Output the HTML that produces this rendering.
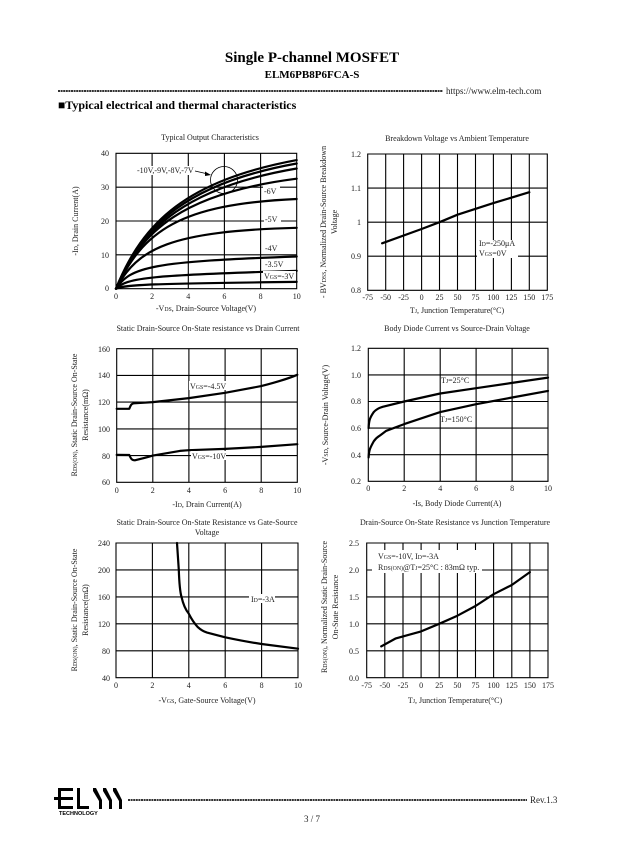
<!DOCTYPE html>
<html><head><meta charset="utf-8"><style>
html,body{margin:0;padding:0;background:#fff}
svg{display:block}
text{font-family:"Liberation Serif",serif;fill:#222}
.t{font-size:8px}
.s{font-size:5.8px}
.g{stroke:#000;stroke-width:1.1;fill:none}
.c{stroke:#000;stroke-width:2.2;fill:none;stroke-linejoin:round;stroke-linecap:round}
.bg{fill:#fff}
</style></head><body>
<svg width="624" height="865" viewBox="0 0 624 865" xmlns="http://www.w3.org/2000/svg">
<rect width="624" height="865" fill="#fff"/>
<!-- header -->
<text x="312" y="62" text-anchor="middle" style="font-size:15px;font-weight:bold;fill:#000">Single P-channel MOSFET</text>
<text x="312" y="78" text-anchor="middle" style="font-size:11px;font-weight:bold;fill:#000">ELM6PB8P6FCA-S</text>
<line x1="58" y1="91" x2="443" y2="91" stroke="#333" stroke-width="2" stroke-dasharray="2,0.6"/>
<text x="446" y="94" style="font-size:9px">https://www.elm-tech.com</text>
<text x="58" y="109" style="font-size:12px;font-weight:bold;fill:#000">■Typical electrical and thermal characteristics</text>

<!-- Chart 1 -->
<text x="210" y="140" text-anchor="middle" class="t">Typical Output Characteristics</text>
<path class="g" d="M116,153.3H296.7V288.7H116Z M152.1,153.3V288.7 M188.3,153.3V288.7 M224.4,153.3V288.7 M260.6,153.3V288.7 M116,187.2H296.7 M116,221H296.7 M116,254.8H296.7"/>
<path class="c" d="M116,288.7 C143,221 188,180.4 296.7,160.1"/>
<path class="c" d="M116,288.7 C143,224 188,183 296.7,163.5"/>
<path class="c" d="M116,288.7 C143,226 188,187 296.7,168.5"/>
<path class="c" d="M116,288.7 C141,230 184,193 296.7,178.7"/>
<path class="c" d="M116,288.7 C143.1,231.2 179.2,204.1 296.7,199"/>
<path class="c" d="M116,288.7 C137.7,248.1 170.2,231.2 296.7,227.8"/>
<path class="c" d="M116,288.7 C130.5,266.7 152.1,261.6 296.7,256.5"/>
<path class="c" d="M116,288.7 C126.8,277.5 152.1,275.2 296.7,270.8"/>
<path class="c" d="M116,288.7 C125,284.6 152.1,283.6 296.7,281.9"/>
<circle cx="224" cy="180" r="13.5" fill="none" stroke="#000" stroke-width="0.8"/>
<rect class="bg" x="136" y="166" width="58" height="9"/>
<text x="137" y="173" class="t">-10V,-9V,-8V,-7V</text>
<line x1="195" y1="171" x2="208" y2="174" stroke="#000" stroke-width="0.8"/>
<path d="M211,175 L205,171.5 L205,176 Z" fill="#000"/>
<rect class="bg" x="263" y="186" width="17" height="9"/><text x="264" y="194" class="t">-6V</text>
<rect class="bg" x="264" y="214" width="17" height="9"/><text x="265" y="222" class="t">-5V</text>
<rect class="bg" x="264" y="243" width="17" height="9"/><text x="265" y="251" class="t">-4V</text>
<rect class="bg" x="264" y="259" width="21" height="9"/><text x="265" y="267" class="t">-3.5V</text>
<rect class="bg" x="263" y="271" width="33" height="9"/><text x="264" y="279" class="t">V<tspan class="s">GS</tspan>=-3V</text>
<g class="t" text-anchor="end"><text x="109" y="156">40</text><text x="109" y="190">30</text><text x="109" y="224">20</text><text x="109" y="258">10</text><text x="109" y="291">0</text></g>
<g class="t" text-anchor="middle"><text x="116" y="299">0</text><text x="152.1" y="299">2</text><text x="188.3" y="299">4</text><text x="224.4" y="299">6</text><text x="260.6" y="299">8</text><text x="296.7" y="299">10</text></g>
<text x="206" y="311" text-anchor="middle" class="t">-V<tspan class="s">DS</tspan>, Drain-Source Voltage(V)</text>
<text transform="translate(78,221) rotate(-90)" text-anchor="middle" class="t">-I<tspan class="s">D</tspan>, Drain Current(A)</text>

<!-- Chart 2 -->
<text x="457" y="141" text-anchor="middle" class="t">Breakdown Voltage vs Ambient Temperature</text>
<path class="g" d="M367.7,154H547.3V290.3H367.7Z M385.7,154V290.3 M403.6,154V290.3 M421.6,154V290.3 M439.5,154V290.3 M457.5,154V290.3 M475.5,154V290.3 M493.4,154V290.3 M511.4,154V290.3 M529.3,154V290.3 M367.7,188.1H547.3 M367.7,222.2H547.3 M367.7,256.2H547.3"/>
<polyline class="c" points="382.1,243.3 421.6,229 439.5,222.2 457.5,214.7 493.4,203.1 529.3,192.2"/>
<rect class="bg" x="477" y="240" width="41" height="18"/>
<text x="479" y="246" class="t">I<tspan class="s">D</tspan>=-250μA</text>
<text x="479" y="256" class="t">V<tspan class="s">GS</tspan>=0V</text>
<g class="t" text-anchor="end"><text x="361" y="157">1.2</text><text x="361" y="191">1.1</text><text x="361" y="225">1</text><text x="361" y="259">0.9</text><text x="361" y="293">0.8</text></g>
<g class="t" text-anchor="middle"><text x="367.7" y="300">-75</text><text x="385.7" y="300">-50</text><text x="403.6" y="300">-25</text><text x="421.6" y="300">0</text><text x="439.5" y="300">25</text><text x="457.5" y="300">50</text><text x="475.5" y="300">75</text><text x="493.4" y="300">100</text><text x="511.4" y="300">125</text><text x="529.3" y="300">150</text><text x="547.3" y="300">175</text></g>
<text x="457" y="313" text-anchor="middle" class="t">T<tspan class="s">J</tspan>, Junction Temperature(°C)</text>
<text transform="translate(326,222) rotate(-90)" text-anchor="middle" class="t">- BV<tspan class="s">DSS</tspan>, Normalized Drain-Source Breakdown</text>
<text transform="translate(337,222) rotate(-90)" text-anchor="middle" class="t">Voltage</text>

<!-- Chart 3 -->
<text x="208" y="331" text-anchor="middle" class="t">Static Drain-Source On-State resistance vs Drain Current</text>
<path class="g" d="M116.7,348.7H297.3V482.3H116.7Z M152.8,348.7V482.3 M188.9,348.7V482.3 M225.1,348.7V482.3 M261.2,348.7V482.3 M116.7,375.4H297.3 M116.7,402.1H297.3 M116.7,428.9H297.3 M116.7,455.6H297.3"/>
<path class="c" d="M116.7,408.8 L129.3,408.8 C131,404 132,403.5 134,403.3 L152.8,402.1 L188.9,398.1 L225.1,392.8 L261.2,386.1 Q285,380 297.3,374.8"/>
<path class="c" d="M116.7,454.9 L129.3,455 C131,459 132,460.3 134.8,460.3 Q145,458 152.8,455.6 L179.9,450.9 L188.9,450.2 L225.1,448.9 L261.2,446.9 L297.3,444.2"/>
<rect class="bg" x="189" y="381" width="38" height="9"/><text x="190" y="389" class="t">V<tspan class="s">GS</tspan>=-4.5V</text>
<rect class="bg" x="191" y="451" width="35" height="9"/><text x="192" y="459" class="t">V<tspan class="s">GS</tspan>=-10V</text>
<g class="t" text-anchor="end"><text x="110" y="352">160</text><text x="110" y="378">140</text><text x="110" y="405">120</text><text x="110" y="432">100</text><text x="110" y="459">80</text><text x="110" y="485">60</text></g>
<g class="t" text-anchor="middle"><text x="116.7" y="493">0</text><text x="152.8" y="493">2</text><text x="188.9" y="493">4</text><text x="225.1" y="493">6</text><text x="261.2" y="493">8</text><text x="297.3" y="493">10</text></g>
<text x="207" y="507" text-anchor="middle" class="t">-I<tspan class="s">D</tspan>, Drain Current(A)</text>
<text transform="translate(77,415) rotate(-90)" text-anchor="middle" class="t">R<tspan class="s">DS(ON)</tspan>, Static Drain-Source On-State</text>
<text transform="translate(88,415) rotate(-90)" text-anchor="middle" class="t">Resistance(mΩ)</text>

<!-- Chart 4 -->
<text x="457" y="331" text-anchor="middle" class="t">Body Diode Current vs Source-Drain Voltage</text>
<path class="g" d="M368.3,348.3H548V481.3H368.3Z M404.2,348.3V481.3 M440.2,348.3V481.3 M476.1,348.3V481.3 M512.1,348.3V481.3 M368.3,374.9H548 M368.3,401.5H548 M368.3,428.1H548 M368.3,454.7H548"/>
<path class="c" d="M368.6,428.1 C369,420 370,417.5 373.7,412.1 Q377,408.5 382.7,406.8 L404.2,401.5 L440.2,393.5 L476.1,388.2 L512.1,382.9 L548,377.6"/>
<path class="c" d="M368.6,457.4 C369,450 370,448.1 373.7,441.4 Q376,438 379.1,436.1 L386.3,430.8 L404.2,424.1 L440.2,412.1 L476.1,404.2 L512.1,397.5 L548,390.9"/>
<text x="441" y="383" class="t">T<tspan class="s">J</tspan>=25°C</text>
<text x="440" y="422" class="t">T<tspan class="s">J</tspan>=150°C</text>
<g class="t" text-anchor="end"><text x="361" y="351">1.2</text><text x="361" y="378">1.0</text><text x="361" y="404">0.8</text><text x="361" y="431">0.6</text><text x="361" y="458">0.4</text><text x="361" y="484">0.2</text></g>
<g class="t" text-anchor="middle"><text x="368.3" y="491">0</text><text x="404.2" y="491">2</text><text x="440.2" y="491">4</text><text x="476.1" y="491">6</text><text x="512.1" y="491">8</text><text x="548" y="491">10</text></g>
<text x="457" y="506" text-anchor="middle" class="t">-Is, Body Diode Current(A)</text>
<text transform="translate(328,415) rotate(-90)" text-anchor="middle" class="t">-V<tspan class="s">SD</tspan>, Source-Drain Voltage(V)</text>

<!-- Chart 5 -->
<text x="207" y="525" text-anchor="middle" class="t">Static Drain-Source On-State Resistance vs Gate-Source</text>
<text x="207" y="535" text-anchor="middle" class="t">Voltage</text>
<path class="g" d="M116,543H298V677.7H116Z M152.4,543V677.7 M188.8,543V677.7 M225.2,543V677.7 M261.6,543V677.7 M116,569.9H298 M116,596.9H298 M116,623.8H298 M116,650.8H298"/>
<path class="c" d="M177,543 L178.8,569.9 Q179.5,590 181.5,596.9 Q184,608 188.8,613.7 Q193,622 197.9,627.2 Q202,631 207,632.6 L225.2,637.3 Q245,641.5 261.6,644 L298,648.7"/>
<rect class="bg" x="249" y="594" width="26" height="9"/><text x="251" y="602" class="t">I<tspan class="s">D</tspan>=-3A</text>
<g class="t" text-anchor="end"><text x="110" y="546">240</text><text x="110" y="573">200</text><text x="110" y="600">160</text><text x="110" y="627">120</text><text x="110" y="654">80</text><text x="110" y="681">40</text></g>
<g class="t" text-anchor="middle"><text x="116" y="688">0</text><text x="152.4" y="688">2</text><text x="188.8" y="688">4</text><text x="225.2" y="688">6</text><text x="261.6" y="688">8</text><text x="298" y="688">10</text></g>
<text x="207" y="703" text-anchor="middle" class="t">-V<tspan class="s">GS</tspan>, Gate-Source Voltage(V)</text>
<text transform="translate(77,610) rotate(-90)" text-anchor="middle" class="t">R<tspan class="s">DS(ON)</tspan>, Static Drain-Source On-State</text>
<text transform="translate(88,610) rotate(-90)" text-anchor="middle" class="t">Resistance(mΩ)</text>

<!-- Chart 6 -->
<text x="455" y="525" text-anchor="middle" class="t">Drain-Source On-State Resistance vs Junction Temperature</text>
<path class="g" d="M366.7,543H548V677.7H366.7Z M384.8,543V677.7 M403,543V677.7 M421.1,543V677.7 M439.2,543V677.7 M457.4,543V677.7 M475.5,543V677.7 M493.6,543V677.7 M511.8,543V677.7 M529.9,543V677.7 M366.7,570H548 M366.7,596.9H548 M366.7,623.8H548 M366.7,650.8H548"/>
<polyline class="c" points="381.2,646.4 395.8,638.4 421.1,631.4 439.2,623.8 457.4,615.7 475.5,606 493.6,594.2 511.8,585 529.9,572.1"/>
<rect class="bg" x="372" y="550" width="110" height="23"/>
<text x="378" y="559" class="t">V<tspan class="s">GS</tspan>=-10V, I<tspan class="s">D</tspan>=-3A</text>
<text x="378" y="570" class="t">R<tspan class="s">DS(ON)</tspan>@T<tspan class="s">J</tspan>=25°C : 83mΩ typ.</text>
<g class="t" text-anchor="end"><text x="359" y="546">2.5</text><text x="359" y="573">2.0</text><text x="359" y="600">1.5</text><text x="359" y="627">1.0</text><text x="359" y="654">0.5</text><text x="359" y="681">0.0</text></g>
<g class="t" text-anchor="middle"><text x="366.7" y="688">-75</text><text x="384.8" y="688">-50</text><text x="403" y="688">-25</text><text x="421.1" y="688">0</text><text x="439.2" y="688">25</text><text x="457.4" y="688">50</text><text x="475.5" y="688">75</text><text x="493.6" y="688">100</text><text x="511.8" y="688">125</text><text x="529.9" y="688">150</text><text x="548" y="688">175</text></g>
<text x="455" y="703" text-anchor="middle" class="t">T<tspan class="s">J</tspan>, Junction Temperature(°C)</text>
<text transform="translate(327,607) rotate(-90)" text-anchor="middle" class="t">R<tspan class="s">DS(ON)</tspan>, Normalized Static Drain-Source</text>
<text transform="translate(338,607) rotate(-90)" text-anchor="middle" class="t">On-State Resistance</text>

<!-- footer -->
<g fill="#000">
<rect x="58" y="788" width="15" height="3"/><rect x="58" y="797" width="15" height="3"/><rect x="58" y="806" width="15" height="3"/><rect x="58" y="788" width="3" height="21"/>
<rect x="54" y="797" width="6" height="3"/>
<rect x="77" y="788" width="3" height="21"/><rect x="77" y="806" width="12" height="3"/>
<path d="M93,788h3l6,12v9h-3v-8l-6-10z M103,788h3l6,12v9h-3v-8l-6-10z M113,788h3l6,12v9h-3v-8l-6-10z"/>
</g>
<text x="59" y="815" style="font-family:'Liberation Sans',sans-serif;font-size:5.5px;font-weight:bold;fill:#000">TECHNOLOGY</text>
<line x1="128" y1="800" x2="527" y2="800" stroke="#333" stroke-width="2" stroke-dasharray="2,0.6"/>
<text x="530" y="803" style="font-size:9px">Rev.1.3</text>
<text x="312" y="822" text-anchor="middle" style="font-size:9px">3 / 7</text>
</svg>
</body></html>
